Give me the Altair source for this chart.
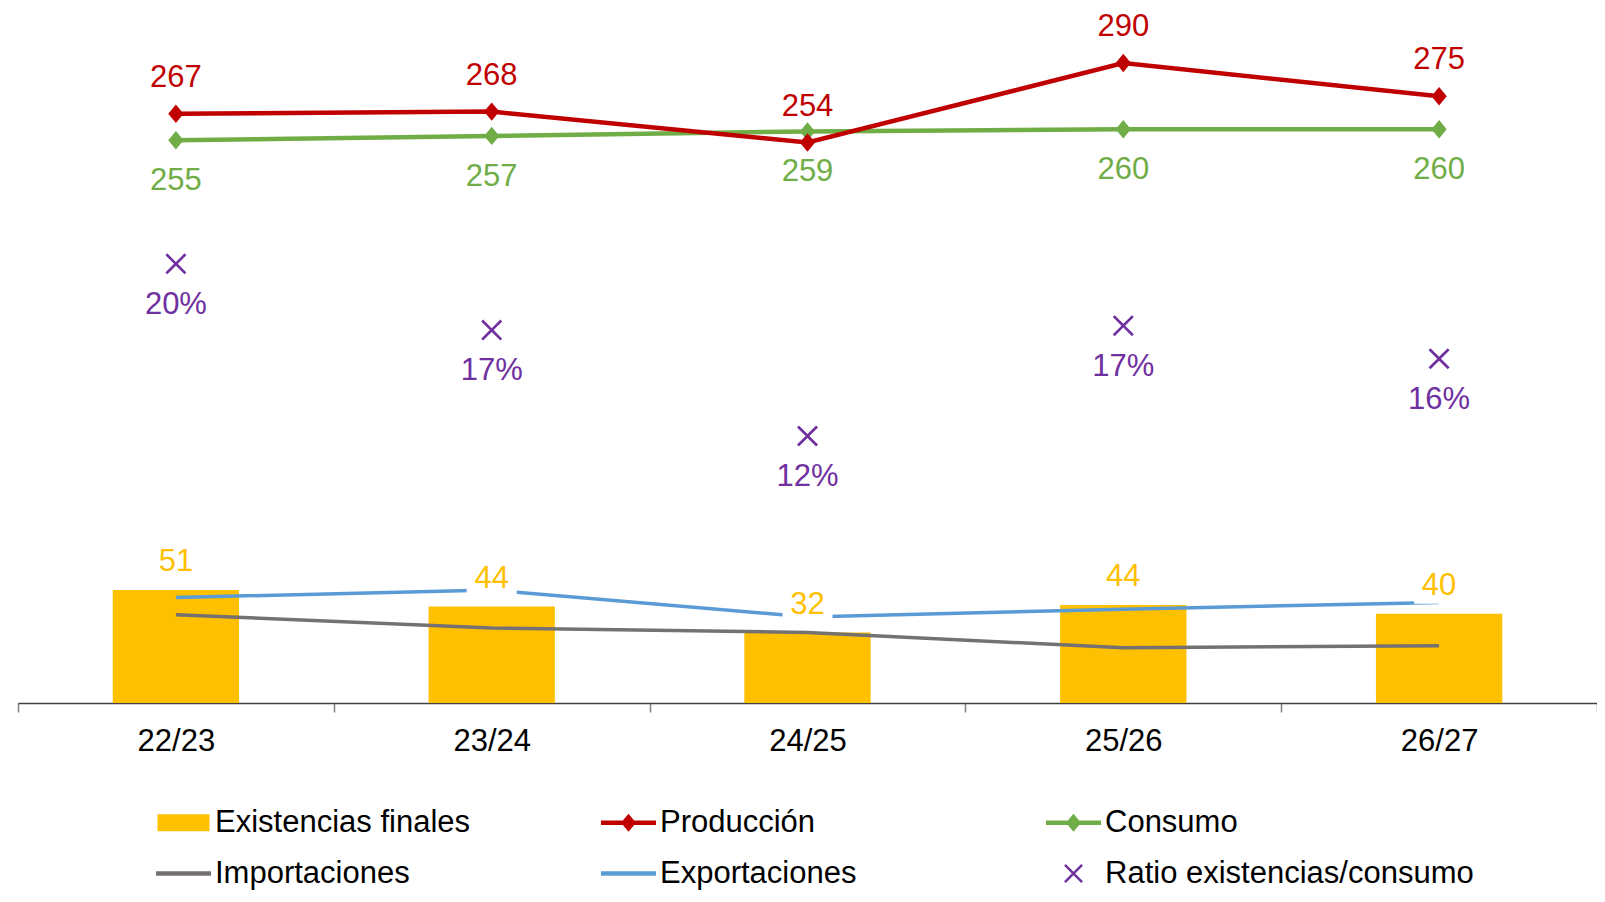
import altair as alt
import pandas as pd

# ---------------- data ----------------
campanas = ["22/23", "23/24", "24/25", "25/26", "26/27"]
existencias = [51.2, 43.7, 31.9, 44.4, 40.4]
produccion = [267, 268, 254, 290, 275]
consumo = [255, 257, 259, 260, 260]
importaciones = [40.0, 34.0, 32.0, 25.0, 26.0]
exportaciones = [47.8, 51.2, 39.0, 42.5, 45.6]
ratio = [0.199, 0.169, 0.121, 0.171, 0.156]

# legend order (filled column by column: 3 columns x 2 rows)
series = ["Existencias finales", "Importaciones", "Producción",
          "Exportaciones", "Consumo", "Ratio existencias/consumo"]
colores = ["#FFC000", "#767171", "#C00000", "#5B9BD5", "#70AD47", "#7030A0"]
C_EXI, C_IMP, C_PRO, C_EXP, C_CON, C_RAT = colores

df = pd.DataFrame({
    "campana": campanas,
    "existencias": existencias,
    "produccion": produccion,
    "consumo": consumo,
    "importaciones": importaciones,
    "exportaciones": exportaciones,
    "ratio": ratio,
})

# ---------------- style ----------------
FONT = "Liberation Sans"
FS = 31
W, H = 1579, 662
YDOM = [0, 300]
RDOM = [0, 0.3]


def xpath(a, e):
    pts = [(-a, -a + e), (-a + e, -a), (0, -e), (a - e, -a), (a, -a + e), (e, 0),
           (a, a - e), (a - e, a), (0, e), (-a + e, a), (-a, a - e), (-e, 0)]
    return "M" + "L".join(f"{x:.3f},{y:.3f}" for x, y in pts) + "Z"


DIAMOND = "M0,-1L0.83,0L0,1L-0.83,0Z"
XCHART = xpath(1.0, 0.18)
BOX = "M-1,-0.72H1V0.72H-1Z"

# legend symbols (unit radius = sqrt(symbolSize)/2)
L_RECT = "M-1.02,-0.333H1.02V0.333H-1.02Z"
L_LINE = "M-1.08,-0.088H1.08V0.088H-1.08Z"
L_LDIA = ("M-1.08,-0.088L-0.221,-0.088L0,-0.353L0.221,-0.088L1.08,-0.088"
          "L1.08,0.088L0.221,0.088L0,0.353L-0.221,0.088L-1.08,0.088Z")
L_X = xpath(0.37, 0.069)
formas = [L_RECT, L_LINE, L_LDIA, L_LINE, L_LDIA, L_X]

x_enc = alt.X(
    "campana:N", sort=campanas,
    scale=alt.Scale(paddingInner=0, paddingOuter=0),
    axis=alt.Axis(title=None, labelAngle=0, tickBand="extent",
                  labelFont=FONT, labelFontSize=FS, labelColor="#000000",
                  domainColor="#404040", domainWidth=1.5,
                  tickColor="#808080", tickWidth=1.5, tickSize=9,
                  labelPadding=14, grid=False),
)


def yq(field):
    return alt.Y(f"{field}:Q", scale=alt.Scale(domain=YDOM, nice=False), axis=None)


def yr(field):
    return alt.Y(f"{field}:Q", scale=alt.Scale(domain=RDOM, nice=False), axis=None)


base = alt.Chart(df)

bars = base.mark_bar(color=C_EXI, width=alt.RelativeBandSize(0.4)).encode(
    x=x_enc, y=yq("existencias"))

imp_line = base.mark_line(color=C_IMP, strokeWidth=3.5).encode(
    x=x_enc, y=yq("importaciones"))
exp_line = base.mark_line(color=C_EXP, strokeWidth=3.5).encode(
    x=x_enc, y=yq("exportaciones"))

bar_boxes = base.mark_point(filled=True, opacity=1, shape=BOX, size=2500,
                            color="white", yOffset=-28).encode(
    x=x_enc, y=yq("existencias"))
bar_labels = base.mark_text(font=FONT, fontSize=FS, color=C_EXI, dy=-28,
                            baseline="middle").encode(
    x=x_enc, y=yq("existencias"), text=alt.Text("existencias:Q", format=".0f"))

cons_line = base.mark_line(color=C_CON, strokeWidth=4.5).encode(
    x=x_enc, y=yq("consumo"))
cons_pts = base.mark_point(filled=True, opacity=1, shape=DIAMOND, size=340,
                           color=C_CON).encode(x=x_enc, y=yq("consumo"))
cons_lab = base.mark_text(font=FONT, fontSize=FS, color=C_CON, dy=41,
                          baseline="middle").encode(
    x=x_enc, y=yq("consumo"), text=alt.Text("consumo:Q", format=".0f"))

prod_line = base.mark_line(color=C_PRO, strokeWidth=4.5).encode(
    x=x_enc, y=yq("produccion"))
prod_pts = base.mark_point(filled=True, opacity=1, shape=DIAMOND, size=340,
                           color=C_PRO).encode(x=x_enc, y=yq("produccion"))
prod_lab = base.mark_text(font=FONT, fontSize=FS, color=C_PRO, dy=-36,
                          baseline="middle").encode(
    x=x_enc, y=yq("produccion"), text=alt.Text("produccion:Q", format=".0f"))

ratio_pts = base.mark_point(filled=True, opacity=1, shape=XCHART, size=441,
                            color=C_RAT).encode(x=x_enc, y=yr("ratio"))
ratio_lab = base.mark_text(font=FONT, fontSize=FS, color=C_RAT, dy=41,
                           baseline="middle").encode(
    x=x_enc, y=yr("ratio"), text=alt.Text("ratio:Q", format=".0%"))

leg = alt.Legend(title=None, orient="none", legendX=140, legendY=756,
                 columns=3, gridAlign="all", columnPadding=16, rowPadding=10,
                 symbolSize=2601, symbolStrokeWidth=0,
                 labelFont=FONT, labelFontSize=FS, labelColor="#000000",
                 labelOffset=6, labelLimit=700, padding=0)

legend_layer = alt.Chart(pd.DataFrame({"serie": series})).mark_point(
    filled=True, opacity=1).encode(
    color=alt.Color("serie:N", scale=alt.Scale(domain=series, range=colores), legend=leg),
    shape=alt.Shape("serie:N", scale=alt.Scale(domain=series, range=formas), legend=leg),
).transform_filter("false")

chart = alt.layer(
    bars, imp_line, exp_line, bar_boxes, bar_labels,
    cons_line, prod_line, cons_pts, prod_pts, cons_lab, prod_lab,
    ratio_pts, ratio_lab, legend_layer,
).resolve_scale(y="independent").properties(
    width=W, height=H,
    background="white",
    autosize=alt.AutoSizeParams(type="none"),
    padding={"left": 10, "top": 33, "right": 0, "bottom": 189},
).configure_view(stroke=None)

chart.save("out.html", embed_options={"renderer": "svg", "actions": False})
